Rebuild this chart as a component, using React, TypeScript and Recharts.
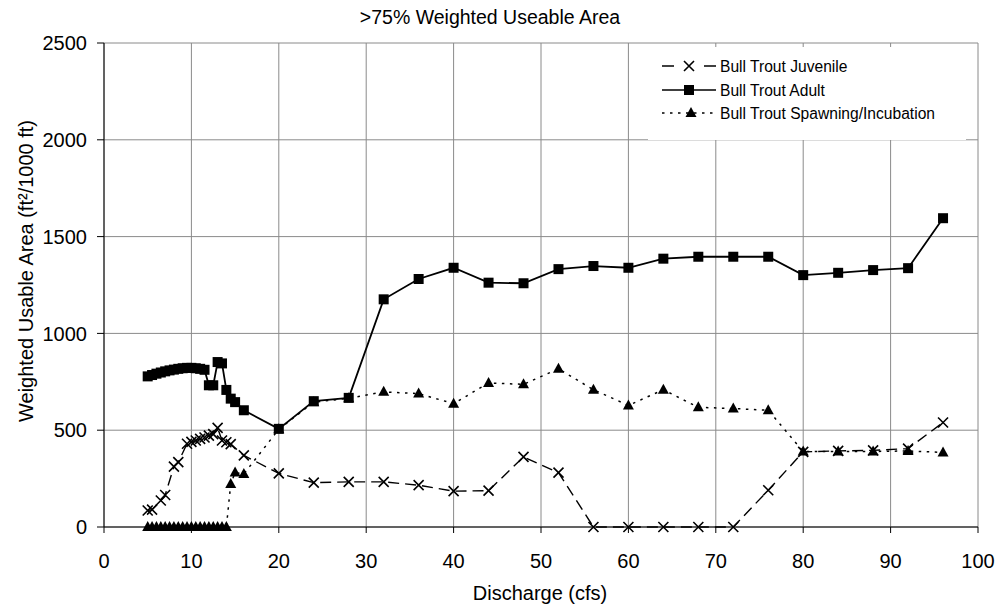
import { LineChart, Line, XAxis, YAxis, CartesianGrid, Legend } from 'recharts'

// Discharge (cfs) sampled for each life stage, with weighted usable area (ft²/1000 ft)
const juvenileQ = [5, 5.5, 6.5, 7, 8, 8.5, 9.5, 10, 10.5, 11, 11.5, 12, 12.5, 13, 13.5, 14, 14.5, 16, 20, 24, 28, 32, 36, 40, 44, 48, 52, 56, 60, 64, 68, 72, 76, 80, 84, 88, 92, 96]
const juvenileWua = [85, 90, 137, 165, 312, 335, 430, 440, 447, 455, 462, 472, 480, 512, 447, 438, 428, 370, 277, 229, 233, 233, 216, 185, 188, 362, 281, 0, 0, 0, 0, 0, 190, 388, 393, 396, 405, 540]

const adultQ = [5, 5.5, 6, 6.5, 7, 7.5, 8, 8.5, 9, 9.5, 10, 10.5, 11, 11.5, 12, 12.5, 13, 13.5, 14, 14.5, 15, 16, 20, 24, 28, 32, 36, 40, 44, 48, 52, 56, 60, 64, 68, 72, 76, 80, 84, 88, 92, 96]
const adultWua = [778, 785, 792, 798, 804, 809, 813, 817, 820, 822, 822, 820, 817, 812, 732, 732, 852, 845, 708, 663, 645, 603, 507, 650, 667, 1176, 1281, 1339, 1262, 1259, 1332, 1348, 1339, 1386, 1396, 1396, 1396, 1301, 1313, 1327, 1337, 1595]

const spawnQ = [5, 5.5, 6, 6.5, 7, 7.5, 8, 8.5, 9, 9.5, 10, 10.5, 11, 11.5, 12, 12.5, 13, 13.5, 14, 14.5, 15, 16, 20, 24, 28, 32, 36, 40, 44, 48, 52, 56, 60, 64, 68, 72, 76, 80, 84, 88, 92, 96]
const spawnWua = [0, 0, 0, 0, 0, 0, 0, 0, 0, 0, 0, 0, 0, 0, 0, 0, 0, 0, 0, 222, 281, 274, 505, 645, 665, 698, 689, 637, 744, 737, 817, 709, 628, 709, 618, 612, 603, 390, 390, 390, 393, 385]

const xTicks = [0, 10, 20, 30, 40, 50, 60, 70, 80, 90, 100]
const yTicks = [0, 500, 1000, 1500, 2000, 2500]

const FONT = '"Liberation Sans", Arial, sans-serif'

const toPoints = (q: number[], wua: number[]) => q.map((x, i) => ({ q: x, wua: wua[i] }))

const juvenile = toPoints(juvenileQ, juvenileWua)
const adult = toPoints(adultQ, adultWua)
const spawning = toPoints(spawnQ, spawnWua)

const XMark = ({ cx, cy }: { cx: number; cy: number }) => {
  const r = 5
  return (
    <path
      d={`M${cx - r},${cy - r}L${cx + r},${cy + r}M${cx - r},${cy + r}L${cx + r},${cy - r}`}
      stroke="#000"
      strokeWidth={1.6}
      fill="none"
    />
  )
}

const SquareMark = ({ cx, cy }: { cx: number; cy: number }) => (
  <rect x={cx - 5} y={cy - 5} width={10} height={10} fill="#000" />
)

const TriangleMark = ({ cx, cy }: { cx: number; cy: number }) => (
  <polygon points={`${cx},${cy - 6} ${cx + 5.5},${cy + 4} ${cx - 5.5},${cy + 4}`} fill="#000" />
)

function LegendBox() {
  const rows = [19, 43, 66]
  return (
    <svg width={318} height={93} style={{ display: 'block', background: '#fff' }}>
      <g stroke="#000" strokeWidth={1.5}>
        <line x1={14} x2={26} y1={rows[0]} y2={rows[0]} />
        <line x1={56} x2={68} y1={rows[0]} y2={rows[0]} />
        <line x1={14} x2={68} y1={rows[1]} y2={rows[1]} />
        <line x1={14} x2={68} y1={rows[2]} y2={rows[2]} strokeDasharray="2.5 5.5" />
      </g>
      <XMark cx={41} cy={rows[0]} />
      <SquareMark cx={41} cy={rows[1]} />
      <TriangleMark cx={43} cy={rows[2]} />
      <g fontFamily={FONT} fontSize={15.6} fill="#000" dominantBaseline="central">
        <text x={72} y={rows[0]}>Bull Trout Juvenile</text>
        <text x={72} y={rows[1]}>Bull Trout Adult</text>
        <text x={72} y={rows[2]}>Bull Trout Spawning/Incubation</text>
      </g>
    </svg>
  )
}

export default function App() {
  const tickStyle = { fontFamily: FONT, fontSize: 20, fill: '#000' }
  return (
    <div style={{ position: 'absolute', left: 0, top: 0, width: 1001, height: 610, background: '#fff' }}>
      <LineChart width={1001} height={610} margin={{ top: 43, right: 23, bottom: 53, left: 0 }}>
        <CartesianGrid stroke="#8a8a8a" strokeWidth={1} />
        <XAxis
          dataKey="q"
          type="number"
          domain={[0, 100]}
          ticks={xTicks}
          height={30}
          tickSize={6}
          tickMargin={21}
          tick={tickStyle}
          axisLine={{ stroke: '#000' }}
          tickLine={{ stroke: '#000' }}
          allowDuplicatedCategory={false}
        />
        <YAxis
          type="number"
          domain={[0, 2500]}
          ticks={yTicks}
          width={104}
          tickSize={7}
          tickMargin={10}
          tick={tickStyle}
          axisLine={{ stroke: '#000' }}
          tickLine={{ stroke: '#000' }}
        />
        <Line
          data={spawning}
          dataKey="wua"
          type="linear"
          stroke="#000"
          strokeWidth={1.5}
          strokeDasharray="2.5 5.5"
          dot={(p: any) => <TriangleMark key={`s-${p.index}`} cx={p.cx} cy={p.cy} />}
          activeDot={false}
          legendType="none"
          isAnimationActive={false}
        />
        <Line
          data={juvenile}
          dataKey="wua"
          type="linear"
          stroke="#000"
          strokeWidth={1.4}
          strokeDasharray="11 6"
          dot={(p: any) => <XMark key={`j-${p.index}`} cx={p.cx} cy={p.cy} />}
          activeDot={false}
          legendType="none"
          isAnimationActive={false}
        />
        <Line
          data={adult}
          dataKey="wua"
          type="linear"
          stroke="#000"
          strokeWidth={1.8}
          dot={(p: any) => <SquareMark key={`a-${p.index}`} cx={p.cx} cy={p.cy} />}
          activeDot={false}
          legendType="none"
          isAnimationActive={false}
        />
        <Legend
          layout="horizontal"
          align="center"
          verticalAlign="middle"
          content={() => <LegendBox />}
          wrapperStyle={{ position: 'absolute', left: 648, top: 47, width: 318, height: 93 }}
        />
      </LineChart>
      <svg
        width={1001}
        height={610}
        style={{ position: 'absolute', left: 0, top: 0, pointerEvents: 'none' }}
      >
        <g fontFamily={FONT} fill="#000" textAnchor="middle" dominantBaseline="central">
          <text x={490} y={17} fontSize={19.5}>&gt;75% Weighted Useable Area</text>
          <text x={540} y={593} fontSize={20}>Discharge (cfs)</text>
          <text x={26} y={271} fontSize={20} transform="rotate(-90 26 271)">
            Weighted Usable Area (ft²/1000 ft)
          </text>
        </g>
      </svg>
    </div>
  )
}
